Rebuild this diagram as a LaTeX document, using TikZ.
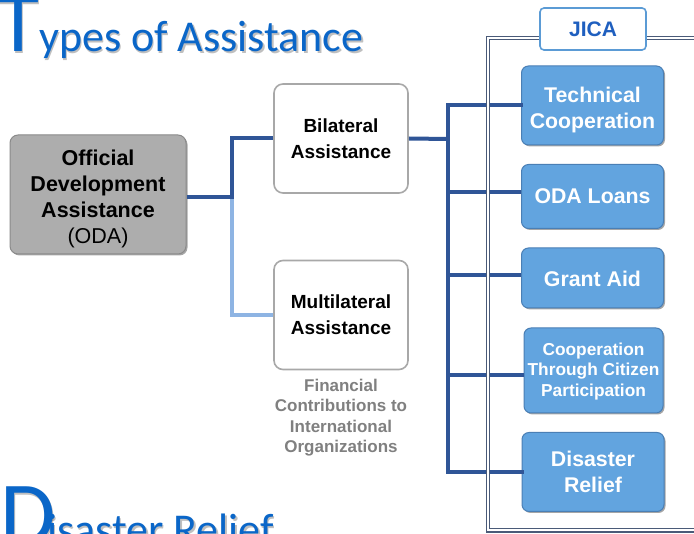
\documentclass[tikz,border=0pt]{standalone}
\usepackage{fontspec}
\setmainfont{Liberation Sans}
\newfontfamily\titlefont{Carlito}
\usetikzlibrary{shadows}
\definecolor{titleblue}{HTML}{0A66C8}
\definecolor{odafill}{HTML}{ADADAD}
\definecolor{odadraw}{HTML}{8A8A8A}
\definecolor{wdraw}{HTML}{A8A8A8}
\definecolor{bfill}{HTML}{62A4DF}
\definecolor{bdraw}{HTML}{4A7FB5}
\definecolor{jdraw}{HTML}{5B9BD5}
\definecolor{jtext}{HTML}{1F5FBF}
\definecolor{dkline}{HTML}{2F5597}
\definecolor{ltline}{HTML}{8EB4E3}
\definecolor{framec}{HTML}{4A5A78}
\definecolor{fingray}{HTML}{808080}
\tikzset{
  boxshadow/.style={drop shadow={shadow xshift=1.5pt,shadow yshift=-1.5pt,opacity=0.35,fill=black}},
  odabox/.style={fill=odafill,draw=odadraw,line width=1pt,rounded corners=8pt,
    minimum width=176pt,minimum height=119pt,inner sep=0pt,boxshadow},
  odatext/.style={align=center,inner sep=0pt,font=\fontsize{21.5}{26}\selectfont},
  wbox/.style={fill=white,draw=wdraw,line width=1.6pt,rounded corners=9pt,
    minimum width=134pt,minimum height=109pt,align=center,inner sep=0pt,
    font=\bfseries\fontsize{19}{26}\selectfont},
  bbox/.style={fill=bfill,draw=bdraw,line width=1pt,rounded corners=7pt,
    minimum width=142pt,inner sep=0pt,boxshadow},
  btext/.style={align=center,inner sep=0pt,text=white,
    font=\bfseries\fontsize{21.3}{26}\selectfont},
  jbox/.style={fill=white,draw=jdraw,line width=1.6pt,rounded corners=4pt,
    minimum width=106pt,minimum height=42pt,inner sep=0pt,text=jtext,
    font=\bfseries\fontsize{21}{24}\selectfont},
  dkconn/.style={draw=dkline,line width=4pt},
  ltconn/.style={draw=ltline,line width=4pt},
  ttl/.style={anchor=base west,inner sep=0pt,text=titleblue},
  ttlsh/.style={anchor=base west,inner sep=0pt,text=black,opacity=0.25},
}
\begin{document}
\begin{tikzpicture}[x=1pt,y=-1pt]
\useasboundingbox (0,0) rectangle (694,534);
\clip (0,0) rectangle (694,534);
\fill[white] (0,0) rectangle (694,534);

% titles (shadow then text)
\node[ttlsh,font=\titlefont\fontsize{86}{86}\selectfont] (tshT) at (-1.5,53.5) {T};
\node[ttlsh,font=\titlefont\fontsize{44}{44}\selectfont] (tshR) at (40.5,53.5) {ypes of Assistance};
\node[ttl,font=\titlefont\fontsize{86}{86}\selectfont] (tT) at (-3,52) {T};
\node[ttl,font=\titlefont\fontsize{44}{44}\selectfont] (tR) at (39,52) {ypes of Assistance};
\node[ttlsh,font=\titlefont\fontsize{90}{90}\selectfont] (dshD) at (1.5,546.5) {D};
\node[ttlsh,font=\titlefont\fontsize{44}{44}\selectfont] (dshR) at (48.5,546.5) {isaster Relief};
\node[ttl,font=\titlefont\fontsize{90}{90}\selectfont] (dD) at (0,545) {D};
\node[ttl,font=\titlefont\fontsize{44}{44}\selectfont] (dR) at (47,545) {isaster Relief};

% nodes
\node[odabox] (oda) at (98,194.5) {};
\node[odatext] (odat) at (98,198.5) {\textbf{Official}\\\textbf{Development}\\\textbf{Assistance}\\(ODA)};
\node[wbox] (bil) at (341,138.5) {Bilateral\\Assistance};
\node[wbox] (mul) at (341,315) {Multilateral\\Assistance};
\node[align=center,inner sep=0pt,text=fingray,font=\bfseries\fontsize{17}{20.6}\selectfont,anchor=north] (fin) at (341,378.5)
  {Financial\\Contributions to\\International\\Organizations};

\node[bbox,minimum height=79pt] (tc) at (592.5,105.5) {};
\node[btext] (tct) at (592.5,109.5) {Technical\\Cooperation};
\node[bbox,minimum height=64pt] (ol) at (592.5,196.5) {};
\node[btext] (olt) at (592.5,196.5) {ODA Loans};
\node[bbox,minimum height=60pt] (ga) at (592.5,278) {};
\node[btext] (gat) at (592.5,279) {Grant Aid};
\node[bbox,minimum height=85pt,minimum width=139pt] (cp) at (593.5,370.5) {};
\node[btext,font=\bfseries\fontsize{17.3}{20.5}\selectfont] (cpt) at (593.5,371.5) {Cooperation\\Through Citizen\\Participation};
\node[bbox,minimum height=79pt] (dr) at (593,472) {};
\node[btext] (drt) at (593,471.5) {Disaster\\Relief};

% connectors
\coordinate (j1) at (232,197);
\coordinate (tx) at (448,139);
\coordinate (olw) at ([yshift=4.5pt]ol.west);
\coordinate (gaw) at ([yshift=3pt]ga.west);
\coordinate (cpw) at ([yshift=-4.5pt]cp.west);
\draw[ltconn] (j1) |- (mul.west);
\draw[dkconn] (oda.east |- j1) -- (j1) |- (bil.west);
\draw[dkconn] (bil.east) -- (tx);
\draw[dkconn,line cap=rect] (tc.west) -| (tx |- dr.west) -- (dr.west);
\draw[dkconn] (olw) -- (tx |- olw);
\draw[dkconn] (gaw) -- (tx |- gaw);
\draw[dkconn] (cpw) -- (tx |- cpw);

% JICA frame
\draw[framec,line width=1.1pt,double=white,double distance=2pt] (488,38) rectangle (720,530.5);
\node[jbox] (jica) at (593,29) {JICA};
\end{tikzpicture}
\end{document}
